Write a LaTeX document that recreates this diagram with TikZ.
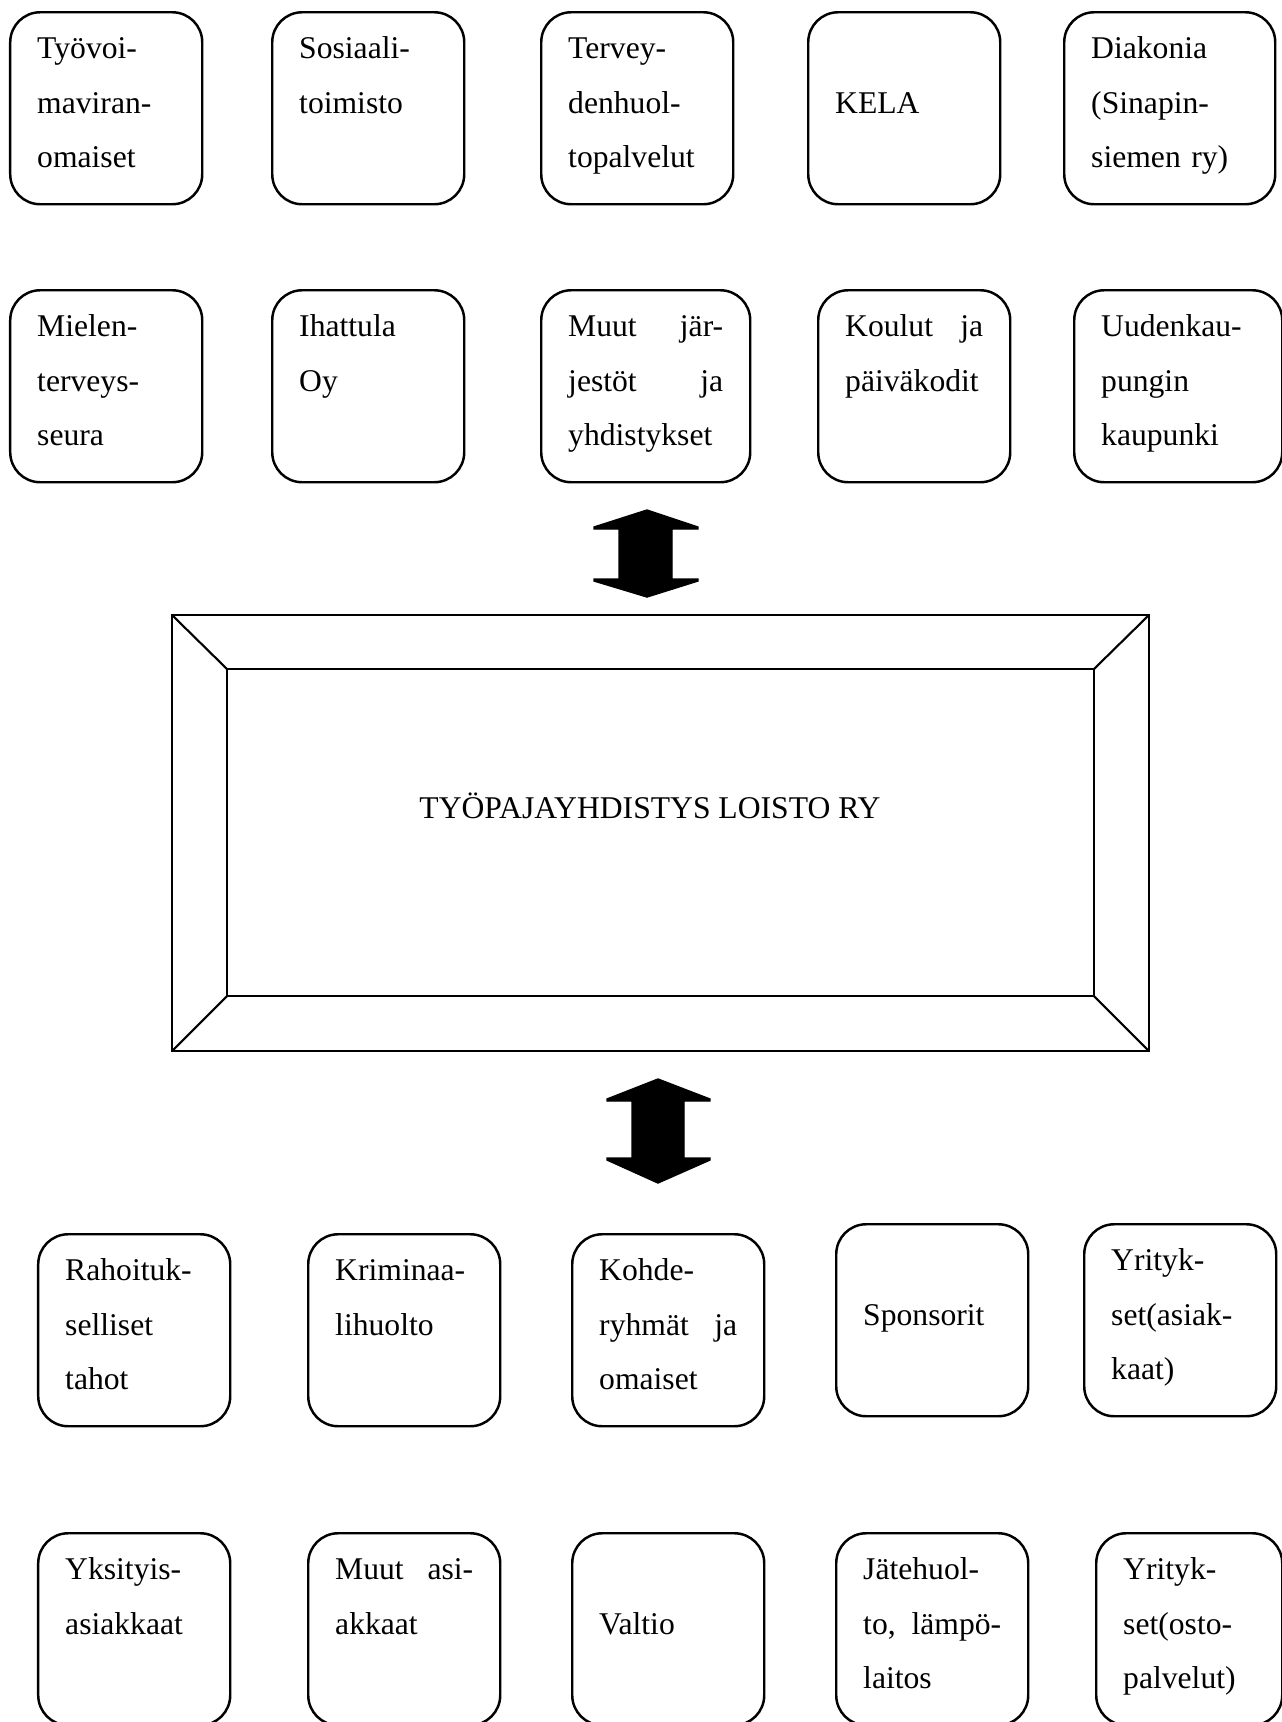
\documentclass[tikz,border=0pt]{standalone}
\usepackage{fontspec}
\setmainfont{Liberation Serif}
\usepackage{tikz}
\usetikzlibrary{positioning}

\tikzset{
  orgbox/.style={draw, line width=0.7pt, rounded corners=0.3cm, anchor=north west,
    align=left, inner xsep=0.27cm, inner ysep=0pt, text width=1.38cm,
    text height=0.46cm, text depth=1.46cm, font=\fontsize{9pt}{15.6pt}\selectfont},
  widebox/.style={orgbox, text width=1.55cm},
  kehys/.style={draw, line width=0.6pt, inner sep=0pt, outer sep=0pt}
}

\begin{document}
\begin{tikzpicture}

\useasboundingbox (0,0) rectangle (12.82,-17.22);

\node (tyovoima) [orgbox] at (0.09,-0.11) {Työvoi-\\maviran-\\omaiset};
\node (sosiaali) [orgbox] at (2.71,-0.11) {Sosiaali-\\toimisto};
\node (terveys) [orgbox] at (5.40,-0.11) {Tervey-\\denhuol-\\topalvelut};
\node (kela) [orgbox] at (8.07,-0.11) {\mbox{}\\KELA};
\node (diakonia) [orgbox, text width=1.57cm] at (10.63,-0.11) {Diakonia\\(Sinapin-\\siemen ry)};

\node (mieli) [orgbox] at (0.09,-2.89) {Mielen-\\terveys-\\seura};
\node (ihattula) [orgbox] at (2.71,-2.89) {Ihattula\\Oy};
\node (jarjestot) [widebox] at (5.40,-2.89) {Muut \hfill jär-\\jestöt \hfill ja\\yhdistykset};
\node (koulut) [orgbox] at (8.17,-2.89) {Koulut \hfill ja\\päiväkodit};
\node (kaupunki) [orgbox, text width=1.54cm] at (10.73,-2.89) {Uudenkau-\\pungin\\kaupunki};

\filldraw [black] (6.47,-5.10) -- (6.98,-5.27) -- (6.98,-5.29) -- (6.72,-5.29) -- (6.72,-5.79)
  -- (6.98,-5.79) -- (6.98,-5.81) -- (6.47,-5.97) -- (5.94,-5.81) -- (5.94,-5.79)
  -- (6.19,-5.79) -- (6.19,-5.29) -- (5.94,-5.29) -- (5.94,-5.27) -- cycle;

\node (loisto) [kehys, minimum width=9.77cm, minimum height=4.36cm] at (6.605,-8.33) {};
\node (sisus) [kehys, minimum width=8.67cm, minimum height=3.27cm] at (6.605,-8.325) {};
\draw [line width=0.6pt] (loisto.north west) -- (sisus.north west);
\draw [line width=0.6pt] (loisto.north east) -- (sisus.north east);
\draw [line width=0.6pt] (loisto.south west) -- (sisus.south west);
\draw [line width=0.6pt] (loisto.south east) -- (sisus.south east);
\node (nimi) [anchor=base, font=\fontsize{9pt}{11pt}\selectfont] at (6.50,-8.18) {TYÖPAJAYHDISTYS LOISTO RY};

\filldraw [black] (6.58,-10.79) -- (7.10,-10.99) -- (7.10,-11.01) -- (6.84,-11.01) -- (6.84,-11.58)
  -- (7.10,-11.58) -- (7.10,-11.60) -- (6.58,-11.83) -- (6.07,-11.60) -- (6.07,-11.58)
  -- (6.32,-11.58) -- (6.32,-11.01) -- (6.07,-11.01) -- (6.07,-10.99) -- cycle;

\node (rahoitus) [orgbox] at (0.37,-12.33) {Rahoituk-\\selliset\\tahot};
\node (kriminaali) [orgbox] at (3.07,-12.33) {Kriminaa-\\lihuolto};
\node (kohde) [orgbox] at (5.71,-12.33) {Kohde-\\ryhmät \hfill ja\\omaiset};
\node (sponsorit) [orgbox] at (8.35,-12.23) {\mbox{}\\Sponsorit};
\node (asiakkaat) [orgbox] at (10.83,-12.23) {Yrityk-\\set(asiak-\\kaat)};

\node (yksityis) [orgbox] at (0.37,-15.32) {Yksityis-\\asiakkaat};
\node (muut) [orgbox] at (3.07,-15.32) {Muut \hfill asi-\\akkaat};
\node (valtio) [orgbox] at (5.71,-15.32) {\mbox{}\\Valtio};
\node (jatehuolto) [orgbox] at (8.35,-15.32) {Jätehuol-\\to, \hfill lämpö-\\laitos};
\node (ostopalvelut) [orgbox, text width=1.32cm] at (10.95,-15.32) {Yrityk-\\set(osto-\\palvelut)};

\end{tikzpicture}
\end{document}
